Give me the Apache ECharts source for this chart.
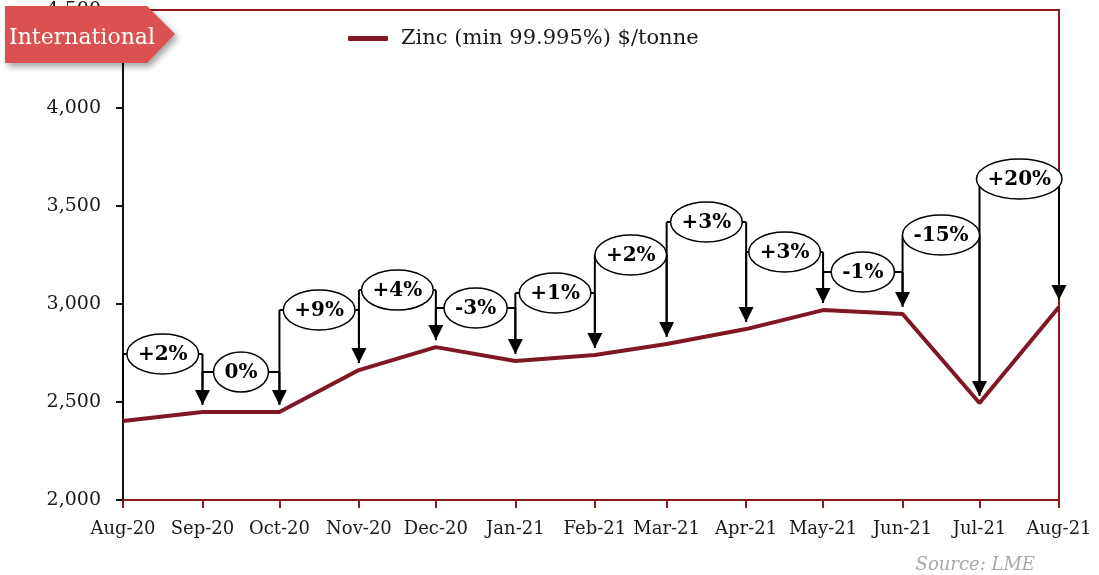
<!DOCTYPE html>
<html>
<head>
<meta charset="utf-8">
<script src="https://cdn.jsdelivr.net/npm/echarts@6/dist/echarts.min.js"></script>
<style>
  html, body { margin: 0; padding: 0; background: #fff; }
  #chart { width: 1099px; height: 575px; }
</style>
</head>
<body>
<div id="chart"></div>
<script>
// data
const months = ['2020-08', '2020-09', '2020-10', '2020-11', '2020-12', '2021-01', '2021-02',
                '2021-03', '2021-04', '2021-05', '2021-06', '2021-07', '2021-08'];
const zinc = [2403, 2449, 2449, 2663, 2780, 2709, 2740, 2796, 2872, 2969, 2949, 2495, 2985];
const changes = ['+2%', '0%', '+9%', '+4%', '-3%', '+1%', '+2%', '+3%', '+3%', '-1%', '-15%', '+20%'];
// height (in $/tonne) where each month-to-month callout sits
const calloutLevel = [2745, 2653, 2969, 3071, 2980, 3056, 3250, 3418, 3265, 3163, 3352, 3638];
const yTicks = [2000, 2500, 3000, 3500, 4000, 4500];
const monthNames = ['Jan', 'Feb', 'Mar', 'Apr', 'May', 'Jun', 'Jul', 'Aug', 'Sep', 'Oct', 'Nov', 'Dec'];

// x is a date axis (months are not evenly spaced), kept as day numbers
const DAY = 86400000;
const days = months.map(m => {
    const [y, mo] = m.split('-').map(Number);
    return Date.UTC(y, mo - 1, 1) / DAY;
});

const serif = '"DejaVu Serif", Georgia, serif';
const frameRed = '#8b1c1c';
const lineRed = '#7f1725';

const chartDom = document.getElementById('chart');
const myChart = echarts.init(chartDom);

const option = {
    animation: false,
    backgroundColor: '#fff',
    grid: { left: 123, right: 40, top: 10, bottom: 75, show: true, borderColor: frameRed, borderWidth: 2 },
    legend: {
        left: 343, top: 23,
        icon: 'roundRect', itemWidth: 40, itemHeight: 5,
        textStyle: { fontFamily: serif, fontSize: 21, color: '#1a1a1a', padding: [0, 0, 0, 8] },
        data: ['Zinc (min 99.995%) $/tonne']
    },
    xAxis: {
        type: 'value',
        min: days[0], max: days[days.length - 1],
        axisLine: { show: true, onZero: false, lineStyle: { color: frameRed, width: 2 } },
        axisTick: { show: true, length: 8, lineStyle: { color: frameRed, width: 2 }, customValues: days },
        splitLine: { show: false },
        axisLabel: {
            customValues: days,
            margin: 20,
            fontFamily: serif, fontSize: 18, color: '#1a1a1a',
            formatter: v => {
                const d = new Date(v * DAY);
                return monthNames[d.getUTCMonth()] + '-' + String(d.getUTCFullYear()).slice(2);
            }
        }
    },
    yAxis: {
        type: 'value',
        min: yTicks[0], max: yTicks[yTicks.length - 1], interval: 500,
        axisLine: { show: true, lineStyle: { color: '#111', width: 2 } },
        axisTick: { show: true, length: 7, lineStyle: { color: '#111', width: 2 } },
        splitLine: { show: false },
        axisLabel: {
            margin: 22,
            fontFamily: serif, fontSize: 19, color: '#1a1a1a',
            formatter: v => v.toLocaleString('en-US')
        }
    },
    series: [{
        name: 'Zinc (min 99.995%) $/tonne',
        type: 'line',
        data: days.map((t, i) => [t, zinc[i]]),
        showSymbol: false,
        symbol: 'none',
        lineStyle: { color: lineRed, width: 4 },
        itemStyle: { color: lineRed },
        z: 3
    }]
};

myChart.setOption(option);

// callouts: bracket lines, ellipses with % change, arrows down to the next month
function drawCallouts() {
    const ctx = document.createElement('canvas').getContext('2d');
    const labelFont = 'bold 20px ' + serif;
    ctx.font = labelFont;
    const els = [];
    const gap = 7, arrowH = 15, arrowW = 7.5;
    const lineStyle = { stroke: '#000', lineWidth: 2 };

    for (let i = 0; i < changes.length; i++) {
        const a = myChart.convertToPixel({ gridIndex: 0 }, [days[i], zinc[i]]);
        const b = myChart.convertToPixel({ gridIndex: 0 }, [days[i + 1], zinc[i + 1]]);
        const L = myChart.convertToPixel({ gridIndex: 0 }, [days[i], calloutLevel[i]])[1];

        if (a[1] - gap > L) {
            els.push({ type: 'line', z: 10, shape: { x1: a[0], y1: L, x2: a[0], y2: a[1] - gap }, style: lineStyle });
        }
        els.push({ type: 'line', z: 10, shape: { x1: a[0], y1: L, x2: b[0], y2: L }, style: lineStyle });
        const tipY = b[1] - gap;
        els.push({ type: 'line', z: 10, shape: { x1: b[0], y1: L, x2: b[0], y2: tipY - arrowH + 1 }, style: lineStyle });
        els.push({
            type: 'polygon', z: 11,
            shape: { points: [[b[0] - arrowW, tipY - arrowH], [b[0] + arrowW, tipY - arrowH], [b[0], tipY]] },
            style: { fill: '#000' }
        });

        const w = ctx.measureText(changes[i]).width;
        const cx = (a[0] + b[0]) / 2;
        els.push({
            type: 'ellipse', z: 12,
            shape: { cx: cx, cy: L, rx: w / 2 + 11, ry: 20 },
            style: { fill: '#fff', stroke: '#000', lineWidth: 1.5 }
        });
        els.push({
            type: 'text', z: 13, x: cx, y: L + 1,
            style: { text: changes[i], font: labelFont, fill: '#000', textAlign: 'center', textVerticalAlign: 'middle' }
        });
    }

    // "International" tag
    els.push({
        type: 'polygon', z: 20,
        shape: { points: [[5, 6], [147, 6], [175, 34], [147, 63], [5, 63]] },
        style: { fill: '#db5151', shadowBlur: 6, shadowOffsetX: 3, shadowOffsetY: 4, shadowColor: 'rgba(0,0,0,0.35)' }
    });
    els.push({
        type: 'text', z: 21, x: 9, y: 38,
        style: { text: 'International', font: '22px ' + serif, fill: '#fff', textAlign: 'left', textVerticalAlign: 'middle' }
    });

    // source note
    els.push({
        type: 'text', z: 21, x: 1035, y: 565,
        style: { text: 'Source: LME', font: 'italic 18px ' + serif, fill: '#a8a8a8', textAlign: 'right', textVerticalAlign: 'middle' }
    });

    myChart.setOption({ graphic: { elements: els } }, { replaceMerge: ['graphic'] });
}

drawCallouts();

window.addEventListener('resize', () => {
    myChart.resize();
    drawCallouts();
});
</script>
</body>
</html>
